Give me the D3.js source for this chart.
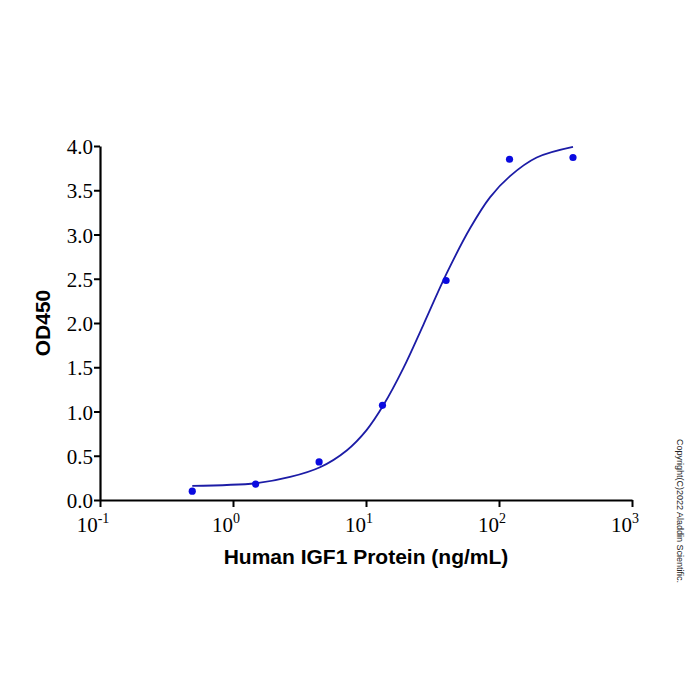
<!DOCTYPE html>
<html>
<head>
<meta charset="utf-8">
<script src="https://cdn.jsdelivr.net/npm/d3@7"></script>
<style>
  body { margin: 0; background: #fff; }
  svg { display: block; }
  .serif { font-family: "Liberation Serif", "DejaVu Serif", serif; }
</style>
</head>
<body>
<div id="chart"></div>
<script>
// measured points
const conc = [0.494, 1.48, 4.44, 13.3, 40, 120, 360];
const od = [0.10, 0.18, 0.43, 1.07, 2.48, 3.85, 3.87];

// fitted curve
const fitConc = [0.494, 1.51, 2.69, 4.51, 7.16, 10.1, 13.5, 19.1, 27.0, 40.4, 60.6, 85.5, 121, 192, 360];
const fitOd = [0.16, 0.19, 0.26, 0.37, 0.56, 0.79, 1.07, 1.49, 1.98, 2.56, 3.07, 3.42, 3.66, 3.87, 3.99];

const xTicks = [0.1, 1, 10, 100, 1000];
const xExp = ["-1", "0", "1", "2", "3"];
const yTicks = [0, 0.5, 1, 1.5, 2, 2.5, 3, 3.5, 4];

const width = 700, height = 700;

const svg = d3.select("#chart").append("svg")
  .attr("width", width)
  .attr("height", height);

const x = d3.scaleLog().domain([0.1, 1000]).range([100, 632]);
const y = d3.scaleLinear().domain([0, 4]).range([500, 146]);

// x axis
const xAxis = svg.append("g")
  .attr("transform", `translate(0,${y(0)})`)
  .call(d3.axisBottom(x).tickValues(xTicks).tickSize(7).tickSizeOuter(0).tickFormat(""));
xAxis.select(".domain").attr("stroke", "#000").attr("stroke-width", 2.2);
xAxis.selectAll(".tick line").attr("stroke", "#000").attr("stroke-width", 2);

const xLab = svg.append("g")
  .selectAll("text")
  .data(xTicks)
  .enter()
  .append("text")
  .attr("class", "serif")
  .attr("x", d => x(d) - 7)
  .attr("y", 532)
  .attr("text-anchor", "middle")
  .style("font-size", "21px");
xLab.append("tspan").text("10");
xLab.append("tspan")
  .attr("dy", -9)
  .style("font-size", "14px")
  .text((d, i) => xExp[i]);

// y axis
const yAxis = svg.append("g")
  .attr("transform", `translate(${x(0.1)},0)`)
  .call(d3.axisLeft(y).tickValues(yTicks).tickSize(6).tickSizeOuter(0).tickFormat(d3.format(".1f")));
yAxis.attr("font-family", null);
yAxis.select(".domain").attr("stroke", "#000").attr("stroke-width", 2.2);
yAxis.selectAll(".tick line").attr("stroke", "#000").attr("stroke-width", 2);
yAxis.selectAll(".tick text")
  .attr("class", "serif")
  .attr("x", -7)
  .attr("dy", "0.36em")
  .attr("fill", "#000")
  .style("font-size", "21px");

// fitted curve
const fit = fitConc.map((c, i) => ({ c, v: fitOd[i] }));
svg.append("path")
  .datum(fit)
  .attr("fill", "none")
  .attr("stroke", "#1c1ca6")
  .attr("stroke-width", 1.8)
  .attr("d", d3.line()
    .x(d => x(d.c))
    .y(d => y(d.v))
    .curve(d3.curveCatmullRom.alpha(0.5)));

// points
svg.append("g")
  .selectAll("circle")
  .data(conc)
  .enter()
  .append("circle")
  .attr("cx", d => x(d))
  .attr("cy", (d, i) => y(od[i]))
  .attr("r", 3.6)
  .attr("fill", "#0a0ae0");

// axis titles
svg.append("text")
  .attr("x", 366)
  .attr("y", 564)
  .attr("text-anchor", "middle")
  .attr("font-family", "'Liberation Sans', Arial, sans-serif")
  .attr("font-weight", "bold")
  .attr("font-size", 21)
  .text("Human IGF1 Protein (ng/mL)");

svg.append("text")
  .attr("transform", `translate(50,${(y(0) + y(4)) / 2}) rotate(-90)`)
  .attr("text-anchor", "middle")
  .attr("font-family", "'Liberation Sans', Arial, sans-serif")
  .attr("font-weight", "bold")
  .attr("font-size", 21)
  .text("OD450");

// copyright
svg.append("text")
  .attr("transform", "translate(677,511) rotate(90)")
  .attr("text-anchor", "middle")
  .attr("font-family", "'Liberation Sans', Arial, sans-serif")
  .attr("font-size", 9)
  .attr("fill", "#222")
  .text("Copyright(C)2022 Aladdin Scientific.");
</script>
</body>
</html>
